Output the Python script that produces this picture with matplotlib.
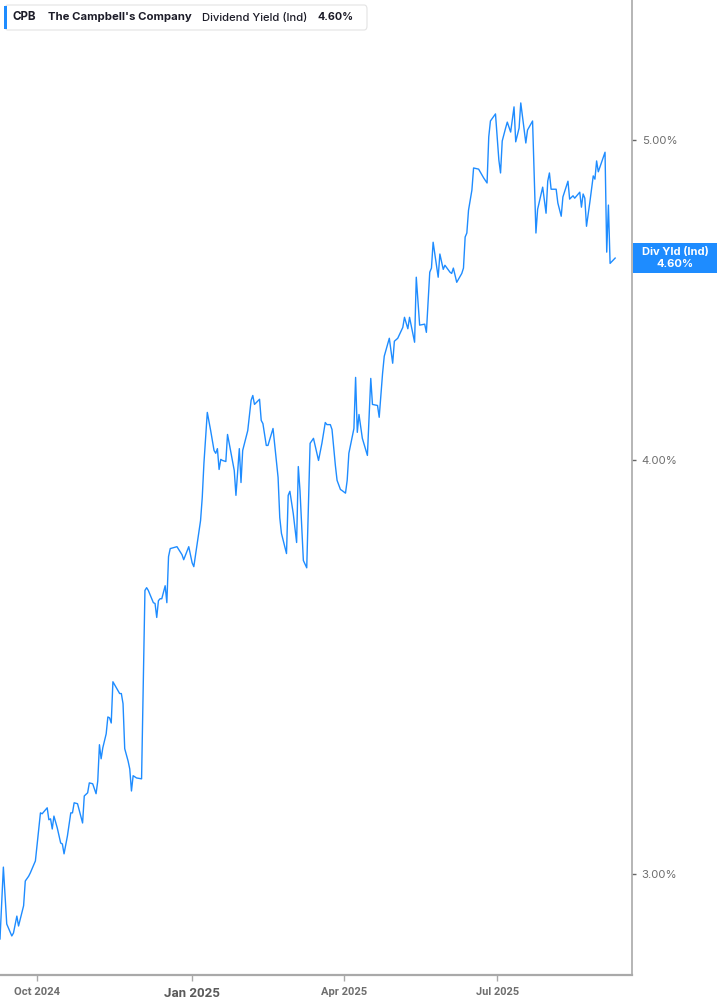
import matplotlib
matplotlib.use("Agg")
import matplotlib.pyplot as plt
import matplotlib.dates as mdates
from matplotlib.patches import FancyBboxPatch, Rectangle
from matplotlib.ticker import FixedLocator, NullLocator, FixedFormatter
import pandas as pd

# ---------------- data ----------------
dates = [
    "2024-09-09", "2024-09-11", "2024-09-13", "2024-09-16", "2024-09-17", "2024-09-19", "2024-09-20",
    "2024-09-23", "2024-09-24", "2024-09-26", "2024-09-27", "2024-09-30", "2024-10-03", "2024-10-04",
    "2024-10-07", "2024-10-08", "2024-10-09", "2024-10-10", "2024-10-11", "2024-10-13", "2024-10-15",
    "2024-10-16", "2024-10-17", "2024-10-19", "2024-10-21", "2024-10-22", "2024-10-23", "2024-10-25",
    "2024-10-28", "2024-10-29", "2024-10-31", "2024-11-01", "2024-11-03", "2024-11-05", "2024-11-06",
    "2024-11-07", "2024-11-08", "2024-11-09", "2024-11-11", "2024-11-12", "2024-11-13", "2024-11-14",
    "2024-11-15", "2024-11-18", "2024-11-19", "2024-11-20", "2024-11-21", "2024-11-22", "2024-11-24",
    "2024-11-25", "2024-11-26", "2024-11-27", "2024-11-29", "2024-12-02", "2024-12-04", "2024-12-05",
    "2024-12-06", "2024-12-09", "2024-12-10", "2024-12-11", "2024-12-12", "2024-12-13", "2024-12-14",
    "2024-12-15", "2024-12-16", "2024-12-17", "2024-12-18", "2024-12-19", "2024-12-23", "2024-12-26",
    "2024-12-27", "2024-12-30", "2025-01-01", "2025-01-02", "2025-01-04", "2025-01-06", "2025-01-07",
    "2025-01-08", "2025-01-10", "2025-01-12", "2025-01-14", "2025-01-15", "2025-01-16", "2025-01-17",
    "2025-01-18", "2025-01-19", "2025-01-21", "2025-01-22", "2025-01-23", "2025-01-26", "2025-01-27",
    "2025-01-29", "2025-01-30", "2025-01-31", "2025-02-03", "2025-02-05", "2025-02-06", "2025-02-07",
    "2025-02-10", "2025-02-11", "2025-02-12", "2025-02-14", "2025-02-15", "2025-02-18", "2025-02-21",
    "2025-02-22", "2025-02-23", "2025-02-26", "2025-02-27", "2025-02-28", "2025-03-02", "2025-03-04",
    "2025-03-05", "2025-03-06", "2025-03-08", "2025-03-10", "2025-03-12", "2025-03-14", "2025-03-17",
    "2025-03-19", "2025-03-21", "2025-03-22", "2025-03-24", "2025-03-25", "2025-03-27", "2025-03-28",
    "2025-03-30", "2025-03-31", "2025-04-02", "2025-04-03", "2025-04-04", "2025-04-07", "2025-04-08",
    "2025-04-09", "2025-04-10", "2025-04-12", "2025-04-15", "2025-04-17", "2025-04-18", "2025-04-21",
    "2025-04-22", "2025-04-24", "2025-04-25", "2025-04-28", "2025-04-30", "2025-05-01", "2025-05-03",
    "2025-05-06", "2025-05-07", "2025-05-09", "2025-05-10", "2025-05-13", "2025-05-14", "2025-05-16",
    "2025-05-19", "2025-05-20", "2025-05-22", "2025-05-23", "2025-05-24", "2025-05-27", "2025-05-28",
    "2025-05-30", "2025-05-31", "2025-06-03", "2025-06-04", "2025-06-05", "2025-06-07", "2025-06-10",
    "2025-06-11", "2025-06-12", "2025-06-13", "2025-06-14", "2025-06-16", "2025-06-17", "2025-06-20",
    "2025-06-23", "2025-06-25", "2025-06-26", "2025-06-27", "2025-06-30", "2025-07-02", "2025-07-03",
    "2025-07-04", "2025-07-06", "2025-07-07", "2025-07-09", "2025-07-11", "2025-07-12", "2025-07-14",
    "2025-07-15", "2025-07-18", "2025-07-19", "2025-07-22", "2025-07-24", "2025-07-25", "2025-07-28",
    "2025-07-30", "2025-07-31", "2025-08-01", "2025-08-02", "2025-08-05", "2025-08-06", "2025-08-08",
    "2025-08-09", "2025-08-12", "2025-08-13", "2025-08-15", "2025-08-16", "2025-08-19", "2025-08-20",
    "2025-08-21", "2025-08-22", "2025-08-23", "2025-08-25", "2025-08-27", "2025-08-28", "2025-08-29",
    "2025-08-30", "2025-09-03", "2025-09-04", "2025-09-05", "2025-09-06", "2025-09-09",
]

div_yield = [
    2.867, 3.014, 2.897, 2.873, 2.879, 2.913, 2.893,
    2.934, 2.985, 2.995, 3.002, 3.027, 3.130, 3.128,
    3.141, 3.115, 3.117, 3.095, 3.123, 3.097, 3.065,
    3.063, 3.042, 3.080, 3.130, 3.130, 3.152, 3.150,
    3.108, 3.167, 3.174, 3.196, 3.194, 3.172, 3.200,
    3.282, 3.250, 3.275, 3.307, 3.346, 3.344, 3.332,
    3.429, 3.408, 3.401, 3.401, 3.377, 3.273, 3.245,
    3.227, 3.178, 3.212, 3.207, 3.205, 3.654, 3.661,
    3.654, 3.623, 3.621, 3.586, 3.628, 3.633, 3.633,
    3.649, 3.666, 3.623, 3.741, 3.762, 3.767, 3.746,
    3.733, 3.767, 3.725, 3.715, 3.775, 3.836, 3.898,
    3.992, 4.136, 4.084, 4.028, 4.020, 4.033, 3.975,
    4.003, 4.000, 3.997, 4.073, 4.048, 3.972, 3.904,
    4.033, 3.939, 4.028, 4.084, 4.171, 4.185, 4.159,
    4.174, 4.113, 4.104, 4.042, 4.042, 4.090, 3.953,
    3.844, 3.802, 3.749, 3.904, 3.915, 3.855, 3.778,
    3.983, 3.917, 3.731, 3.712, 4.048, 4.062, 4.000,
    4.048, 4.107, 4.101, 4.101, 4.087, 3.986, 3.945,
    3.920, 3.917, 3.910, 3.945, 4.020, 4.090, 4.238,
    4.079, 4.130, 4.062, 4.014, 4.235, 4.159, 4.156,
    4.122, 4.250, 4.301, 4.355, 4.280, 4.346, 4.355,
    4.388, 4.419, 4.384, 4.419, 4.343, 4.544, 4.395,
    4.398, 4.373, 4.560, 4.573, 4.656, 4.544, 4.618,
    4.569, 4.582, 4.560, 4.556, 4.573, 4.528, 4.556,
    4.573, 4.673, 4.686, 4.761, 4.828, 4.903, 4.899,
    4.869, 4.852, 5.010, 5.066, 5.091, 4.930, 4.886,
    4.996, 5.041, 5.062, 5.027, 5.116, 4.993, 5.041,
    5.130, 4.989, 5.034, 5.066, 4.686, 4.764, 4.838,
    4.751, 4.858, 4.886, 4.831, 4.831, 4.785, 4.741,
    4.805, 4.858, 4.798, 4.809, 4.801, 4.821, 4.771,
    4.815, 4.801, 4.708, 4.788, 4.876, 4.865, 4.927,
    4.890, 4.957, 4.624, 4.778, 4.588, 4.605,
]

y_ticks = [3.0, 4.0, 5.0]
y_tick_labels = ["3.00%", "4.00%", "5.00%"]
x_ticks = ["2024-10-01", "2025-01-01", "2025-04-01", "2025-07-01"]
x_tick_labels = ["Oct 2024", "Jan 2025", "Apr 2025", "Jul 2025"]

ticker = "CPB"
company = "The Campbell's Company"
metric = "Dividend Yield (Ind)"
last_label = "4.60%"
badge_label = "Div Yld (Ind)"

# ---------------- styling ----------------
LINE = "#1e8cff"
GRAY_TXT = "#6e6e6e"
SPINE = "#a9a9a9"
DARK = "#1c1c28"

W, H = 717, 1005
fig = plt.figure(figsize=(W / 100, H / 100), dpi=100)
fig.patch.set_facecolor("white")

ax_left, ax_right, ax_top, ax_bottom = 0, 632, 0, 975
ax = fig.add_axes([ax_left / W, 1 - ax_bottom / H, (ax_right - ax_left) / W, (ax_bottom - ax_top) / H])
ax.set_facecolor("white")

x = pd.to_datetime(dates)
ax.plot(x, div_yield, color=LINE, lw=1.0)

ax.set_yscale("log")
ax.set_ylim(2.796, 5.511)
ax.set_xlim(pd.Timestamp("2024-09-09"), pd.Timestamp("2025-09-19"))

for s in ["top", "left"]:
    ax.spines[s].set_visible(False)
ax.spines["right"].set_color(SPINE)
ax.spines["right"].set_linewidth(1.2)
ax.spines["bottom"].set_color(SPINE)
ax.spines["bottom"].set_linewidth(1.6)

ax.yaxis.tick_right()
ax.yaxis.set_major_locator(FixedLocator(y_ticks))
ax.yaxis.set_major_formatter(FixedFormatter(y_tick_labels))
ax.yaxis.set_minor_locator(NullLocator())
ax.tick_params(axis="y", which="major", length=3, width=1, color="#666666",
               labelcolor=GRAY_TXT, labelsize=8.2, pad=4)
for lab in ax.get_yticklabels():
    lab.set_family(["Inter", "DejaVu Sans"])

xt = pd.to_datetime(x_ticks)
ax.set_xticks(xt)
ax.set_xticklabels(x_tick_labels)
ax.xaxis.set_minor_locator(NullLocator())
ax.tick_params(axis="x", which="major", length=4, width=1, color=SPINE,
               labelcolor=GRAY_TXT, labelsize=8.0, pad=4.5)
for lab in ax.get_xticklabels():
    lab.set_family(["Roboto", "DejaVu Sans"])
    lab.set_fontweight("bold")
    if lab.get_text().startswith("Jan"):
        lab.set_fontsize(9.6)
        lab.set_color("#5a5a5a")

# ---------------- header box ----------------
def fx(px):
    return px / W

def fy(py):
    return 1 - py / H

hdr = FancyBboxPatch((fx(5), fy(30)), fx(362), (30 - 5) / H,
                     boxstyle="round,pad=0,rounding_size=0.004",
                     transform=fig.transFigure, facecolor="white",
                     edgecolor="#e3e3e3", lw=0.8, zorder=5)
fig.patches.append(hdr)
bar = Rectangle((fx(4), fy(29)), fx(3), 23 / H, transform=fig.transFigure,
                facecolor="#1e8cff", edgecolor="none", zorder=6)
fig.patches.append(bar)

hy = fy(17.5)
fam = ["Inter", "DejaVu Sans"]
header_items = [
    (ticker, 13, 24, "bold"),
    (company, 47.5, 143.5, "bold"),
    (metric, 202, 106, "medium"),
    (last_label, 318, 36, "bold"),
]
hdr_texts = []
for txt, x0, wt, fw in header_items:
    t = fig.text(fx(x0), hy, txt, fontsize=9, fontweight=fw, color=DARK, va="center",
                 family=fam, zorder=7)
    hdr_texts.append((t, wt))

# fit tick label widths / header widths to the reference
fig.canvas.draw()
r = fig.canvas.get_renderer()
for t, wt in hdr_texts:
    w = t.get_window_extent(r).width
    t.set_fontsize(t.get_fontsize() * wt / w)

x_label_widths = {"Oct 2024": 46, "Jan 2025": 56, "Apr 2025": 46, "Jul 2025": 43}
for lab in ax.get_xticklabels():
    w = lab.get_window_extent(r).width
    target = x_label_widths.get(lab.get_text(), w)
    lab.set_fontsize(lab.get_fontsize() * target / w)

# ---------------- last value badge ----------------
last_y_px = ax.transData.transform((mdates.date2num(x[-1]), div_yield[-1]))[1]
bh = 30
badge = Rectangle((fx(633), (last_y_px - bh / 2) / H), fx(84), bh / H, transform=fig.transFigure,
                  facecolor="#1e8cff", edgecolor="none", zorder=6)
fig.patches.append(badge)
fig.text(fx(675), (last_y_px + 6) / H, badge_label, fontsize=8, fontweight="bold", color="white",
         ha="center", va="center", family=fam, zorder=7)
fig.text(fx(675), (last_y_px - 6) / H, last_label, fontsize=8, fontweight="bold", color="white",
         ha="center", va="center", family=fam, zorder=7)

fig.savefig("out.png", dpi=100, facecolor="white")
